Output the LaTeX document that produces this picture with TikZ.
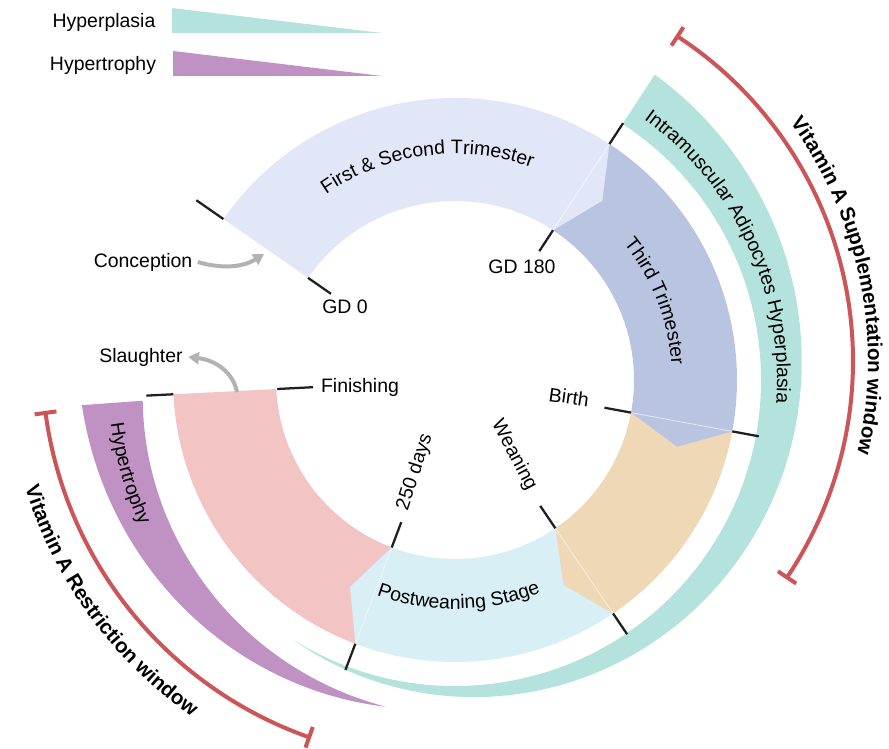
\documentclass[tikz,border=0pt]{standalone}
\usepackage{fontspec}
\setmainfont{Liberation Sans}
\usetikzlibrary{arrows.meta,decorations.text}
\definecolor{cLav}{RGB}{226,231,248}
\definecolor{cThird}{RGB}{185,197,224}
\definecolor{cOrange}{RGB}{238,216,182}
\definecolor{cBlue}{RGB}{216,239,246}
\definecolor{cPink}{RGB}{242,196,196}
\definecolor{cTeal}{RGB}{180,226,220}
\definecolor{cPurple}{RGB}{192,146,196}
\definecolor{cRed}{RGB}{204,85,87}
\definecolor{cGray}{RGB}{178,178,178}
\newcommand\lblfont{\fontsize{14.6}{17}\selectfont}
\newcommand\boldlbl{\fontsize{15.4}{18}\selectfont\bfseries}
\newcommand\ringseg[4]{\fill[#4] (#1:179) -- (#1:282) arc[start angle=#1, end angle=#2, radius=282] -- (#3:232) -- (#2:179) arc[start angle=#2, end angle=#1, radius=179] -- cycle;}
\begin{document}
\begin{tikzpicture}[x=0.75pt,y=0.75pt,
  font=\lblfont,
  tick/.style={line width=1.7pt, black!88},
  redarc/.style={line width=3pt, cRed},
  garrow/.style={line width=3pt, cGray, -{Triangle[length=8pt,width=9pt]}},
  lbl/.style={inner sep=4pt},
  junction/.style={white, opacity=.6, line width=.6pt}]
\useasboundingbox (0,0) rectangle (889,-749);

% legend
\node[lbl] (lhyperplasia) at (104,-22) {Hyperplasia};
\node[lbl] (lhypertrophy) at (103,-65) {Hypertrophy};
\fill[cTeal] (172,-8) -- (172,-33) -- (382,-33) -- cycle;
\fill[cPurple] (173,-51) -- (173,-76) -- (382,-76) -- cycle;

\begin{scope}[shift={(455,-380)}]
  % outer bands
  \fill[cTeal] (56.8:306) arc[start angle=56.8, end angle=-122, radius=306]
     -- plot[domain=-122:56.8, samples=90] (\x:{306+59*(\x+122)/178.8}) -- cycle;
  \fill[cPurple] plot[domain=0:1, samples=60] ({183.8+74.2*\x}:{313+21*\x})
     -- plot[domain=0:1, samples=60] ({258-74.2*\x}:{334+40*\x}) -- cycle;
  % ring segments
  \ringseg{-110.7}{-177.1}{-177.1}{cPink}
  \ringseg{-55.9}{-110.7}{-116.9}{cBlue}
  \ringseg{-10.5}{-55.9}{-62.1}{cOrange}
  \ringseg{56.8}{-10.5}{-16.7}{cThird}
  \ringseg{145.2}{56.8}{50.6}{cLav}
  \foreach \a in {56.8,-10.5,-55.9,-110.7}
    \draw[junction] (\a:281) -- (\a:180);
  % ticks
  \draw[tick] (145.2:282) -- (145.2:315);
  \draw[tick] (145.2:179) -- (145.2:151);
  \draw[tick] (56.8:179) -- (56.8:154);
  \draw[tick] (56.8:282) -- (56.8:307);
  \draw[tick] (-10.5:179) -- (-10.5:152);
  \draw[tick] (-10.5:282) -- (-10.5:309);
  \draw[tick] (-55.9:179) -- (-55.9:152);
  \draw[tick] (-55.9:282) -- (-55.9:307);
  \draw[tick] (-110.7:179) -- (-110.7:152);
  \draw[tick] (-110.7:282) -- (-110.7:310);
  \draw[tick] (182.9:178) -- (182.9:142);
  \draw[tick] (182.9:282) -- (182.9:309);
  % curved labels
  \path[decorate, decoration={text along path, text align=center,
     text={|\lblfont|First {\&} Second Trimester}}]
     (132:226) arc[start angle=132, end angle=63, radius=226];
  \path[decorate, decoration={text along path, text align=center,
     text={|\lblfont|Third Trimester}}]
     (47:217) arc[start angle=47, end angle=-4, radius=217];
  \path[decorate, decoration={text along path, text align=center,
     text={|\lblfont|Intramuscular Adipocytes Hyperplasia}}]
     (65:322) arc[start angle=65, end angle=-15, radius=322];
  \path[decorate, decoration={text along path, text align=center,
     text={|\lblfont|Postweaning Stage}}]
     (-125:229) arc[start angle=-125, end angle=-53, radius=229];
  \path[decorate, decoration={text along path, text align=center,
     text={|\lblfont|Hypertrophy}}]
     (178:347) arc[start angle=178, end angle=214, radius=347];
\end{scope}

% Vitamin A supplementation window
\begin{scope}[shift={(465,-361)}]
  \draw[redarc] (56.8:388) arc[start angle=56.8, end angle=-33.9, radius=388];
  \draw[redarc] (56.8:377) -- (56.8:399);
  \draw[redarc] (-33.9:377) -- (-33.9:399);
  \path[decorate, decoration={text along path, text align=center,
     text={|\boldlbl|Vitamin A Supplementation window}}]
     (60:403) arc[start angle=60, end angle=-37, radius=403];
\end{scope}

% Vitamin A restriction window
\begin{scope}[shift={(442,-360)}]
  \draw[redarc] (187.6:400) arc[start angle=187.6, end angle=250.6, radius=400];
  \draw[redarc] (187.6:389) -- (187.6:411);
  \draw[redarc] (250.6:389) -- (250.6:411);
  \path[decorate, decoration={text along path, text align=center,
     text={|\boldlbl|Vitamin A Restriction window}}]
     (170:436) arc[start angle=170, end angle=262, radius=436];
\end{scope}

% straight labels
\node[lbl] (conception) at (143,-262) {Conception};
\node[lbl] (gd0) at (345,-307) {GD 0};
\node[lbl] (gd180) at (522,-267) {GD 180};
\node[lbl, rotate=-8] (birth) at (569,-397) {Birth};
\node[lbl, rotate=-62] (weaning) at (514,-455) {Weaning};
\node[lbl, rotate=72] (days) at (415,-472) {250 days};
\node[lbl] (finishing) at (360,-387) {Finishing};
\node[lbl] (slaughter) at (141,-357) {Slaughter};

% gray arrows
\coordinate (conc-end) at (264,-254);
\coordinate (slau-start) at (237,-392);
\draw[garrow] (conception.east) .. controls (225,-270) and (245,-266) .. (conc-end);
\draw[garrow] (slau-start) .. controls (233,-372) and (215,-360) .. (slaughter.east);
\end{tikzpicture}
\end{document}
